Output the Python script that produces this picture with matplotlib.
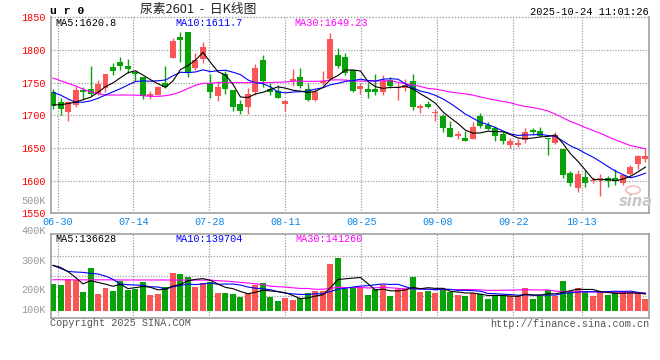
import numpy as np
import pandas as pd
import matplotlib
matplotlib.use('Agg')
import matplotlib.pyplot as plt
from matplotlib.patches import Circle

# ---------------- data ----------------
start_date = '2025-06-27'
end_date = '2025-10-24'
holidays = ['2025-10-01', '2025-10-02', '2025-10-03', '2025-10-06', '2025-10-07', '2025-10-08']

opens = [1735, 1720, 1705, 1716, 1739, 1740, 1733, 1742, 1774, 1781,
         1776, 1767, 1758, 1730, 1731, 1750, 1788, 1820, 1827, 1773,
         1786, 1750, 1729, 1763, 1739, 1717, 1713, 1735, 1784, 1741,
         1737, 1718, 1753, 1758, 1740, 1724, 1749, 1755, 1792, 1790,
         1769, 1740, 1740, 1740, 1736, 1754, 1742, 1742, 1752, 1711,
         1718, 1703, 1699, 1681, 1668, 1665, 1664, 1699, 1685, 1680,
         1671, 1654, 1654, 1662, 1677, 1676, 1666, 1658, 1649, 1612,
         1589, 1605, 1599, 1601, 1604, 1604, 1596, 1610, 1626, 1633]
highs = [1740, 1727, 1722, 1745, 1744, 1775, 1754, 1763, 1780, 1789,
         1786, 1768, 1758, 1737, 1745, 1775, 1819, 1828, 1827, 1795,
         1812, 1763, 1752, 1768, 1739, 1724, 1742, 1779, 1792, 1750,
         1747, 1724, 1771, 1773, 1749, 1740, 1768, 1826, 1803, 1795,
         1770, 1749, 1749, 1763, 1762, 1758, 1749, 1756, 1763, 1718,
         1722, 1709, 1702, 1691, 1676, 1676, 1689, 1703, 1690, 1683,
         1675, 1666, 1664, 1680, 1680, 1682, 1666, 1675, 1649, 1614,
         1616, 1616, 1606, 1610, 1607, 1618, 1610, 1624, 1639, 1649]
lows = [1710, 1700, 1691, 1713, 1724, 1729, 1731, 1736, 1762, 1769,
        1764, 1752, 1725, 1725, 1731, 1742, 1788, 1781, 1759, 1769,
        1780, 1727, 1722, 1732, 1707, 1702, 1702, 1731, 1744, 1731,
        1726, 1707, 1745, 1742, 1722, 1722, 1747, 1755, 1773, 1762,
        1736, 1733, 1726, 1731, 1731, 1742, 1724, 1737, 1708, 1704,
        1711, 1691, 1675, 1667, 1664, 1660, 1664, 1681, 1678, 1661,
        1656, 1650, 1651, 1657, 1671, 1667, 1639, 1656, 1604, 1592,
        1582, 1591, 1596, 1577, 1590, 1593, 1593, 1609, 1618, 1629]
closes = [1715, 1710, 1720, 1739, 1736, 1733, 1748, 1763, 1768, 1776,
          1771, 1763, 1730, 1733, 1744, 1744, 1813, 1816, 1764, 1785,
          1804, 1736, 1744, 1740, 1713, 1707, 1732, 1772, 1752, 1735,
          1727, 1722, 1756, 1745, 1724, 1736, 1753, 1817, 1775, 1765,
          1737, 1745, 1736, 1736, 1752, 1745, 1744, 1747, 1713, 1715,
          1712, 1705, 1681, 1667, 1672, 1661, 1682, 1684, 1679, 1669,
          1660, 1660, 1658, 1674, 1674, 1669, 1663, 1670, 1608, 1596,
          1610, 1596, 1600, 1604, 1600, 1599, 1609, 1621, 1638, 1637]
volumes_k = [218, 210, 259, 251, 155, 351, 139, 188, 163, 242,
             169, 180, 237, 128, 139, 196, 310, 302, 278, 193,
             229, 237, 147, 147, 139, 114, 147, 207, 229, 112,
             82, 106, 90, 101, 144, 158, 158, 381, 433, 174,
             185, 182, 128, 174, 210, 120, 174, 174, 275, 155,
             161, 147, 177, 150, 128, 123, 142, 136, 95, 128,
             120, 120, 120, 185, 95, 120, 169, 120, 245, 163,
             185, 155, 120, 155, 128, 152, 152, 142, 142, 95]

# moving-average values before enough history is visible
ma5_head = [1716, 1716, 1718, 1720]
ma10_head = [1735, 1731, 1725, 1720, 1720, 1722, 1726, 1731, 1736]
ma30_head = [1757, 1753, 1749, 1745, 1740, 1736, 1733, 1731, 1731, 1731,
             1731, 1731, 1730, 1729, 1729, 1730, 1732, 1736, 1741, 1746,
             1749, 1749, 1750, 1750, 1750, 1750, 1750, 1750, 1750]
vma5_head = [370, 354, 319, 272]
vma10_head = [370, 346, 321, 316, 313, 305, 300, 283, 256]
vma30_head = [253, 253, 252, 252, 252, 252, 252, 252, 252, 251,
              251, 251, 251, 251, 251, 251, 250, 250, 250, 250,
              250, 250, 245, 242, 237, 231, 226, 220, 212]

tick_dates = ['06-30', '07-14', '07-28', '08-11', '08-25', '09-08', '09-22', '10-13']
price_ticks = [1550, 1600, 1650, 1700, 1750, 1800, 1850]
vol_tick_labels = ['100K', '200K', '300K', '400K', '500K']
title_name = '尿素2601  -  日K线图'
symbol = 'u r 0'
timestamp = '2025-10-24 11:01:26'
ma_price_labels = ['MA5:1620.8', 'MA10:1611.7', 'MA30:1649.23']
ma_vol_labels = ['MA5:136628', 'MA10:139704', 'MA30:141260']
copyright_text = 'Copyright 2025 SINA.COM'
url_text = 'http://finance.sina.com.cn'

# ---------------- derived ----------------
dates = pd.bdate_range(start_date, end_date)
dates = dates[~dates.isin(pd.to_datetime(holidays))]
date_str = list(dates.strftime('%m-%d'))

o = np.array(opens, float); h = np.array(highs, float)
l = np.array(lows, float); c = np.array(closes, float)
v = np.array(volumes_k, float)
n = len(c)
x = np.arange(n)


def ma(series, win, head):
    s = pd.Series(series).rolling(win).mean().to_numpy()
    s[:len(head)] = head
    return s


ma5 = ma(c, 5, ma5_head); ma10 = ma(c, 10, ma10_head); ma30 = ma(c, 30, ma30_head)
vma5 = ma(v, 5, vma5_head); vma10 = ma(v, 10, vma10_head); vma30 = ma(v, 30, vma30_head)

# ---------------- style ----------------
RED = '#fb5656'
GREEN = '#0aa20a'
GRID = '#a0a0a0'
SPINE = '#a0a0a0'
MONO = 'Liberation Mono'
W, H = 660, 360
LW = 0.8


def fx(px):
    return px / W


def fy(py):
    return 1 - py / H


L, R = 50.7, 649.3
MT, MB = 17.3, 213.3
VT, VB = 234.3, 318.3

fig = plt.figure(figsize=(W / 100, H / 100), dpi=100)
fig.patch.set_facecolor('white')
ax = fig.add_axes([fx(L), fy(MB), fx(R - L), (MB - MT) / H])
axv = fig.add_axes([fx(L), fy(VB), fx(R - L), (VB - VT) / H])

xlim = (-0.307, 79.51)
grid_x = [1.01333 * date_str.index(d) - 0.4133 for d in tick_dates]
dot = (0, (1, 1.2))

# ---- main price panel ----
up = c >= o
cols = np.where(up, RED, GREEN)
ax.vlines(x, l, h, colors=cols, lw=1.0, zorder=3)
body_bottom = np.minimum(o, c)
body_h = np.maximum(np.abs(c - o), 1.3)
ax.bar(x, body_h, bottom=body_bottom, width=0.8, color=cols, lw=0, zorder=3)
ax.plot(x, ma30, color='#ff00ff', lw=LW, zorder=4)
ax.plot(x, ma10, color='#0000ff', lw=LW, zorder=5)
ax.plot(x, ma5, color='black', lw=LW, zorder=6)

ax.set_xlim(*xlim)
ax.set_ylim(1550, 1850)
for p in price_ticks[1:-1]:
    ax.axhline(p, color=GRID, lw=0.9, ls=dot, zorder=1)
ax.axhline(1850, color=GRID, lw=1.0, ls=dot, zorder=1, clip_on=False)
for gx in grid_x:
    ax.axvline(gx, color=GRID, lw=0.9, ls=dot, zorder=1)
ax.set_yticks(price_ticks)
ax.set_yticklabels([str(p) for p in price_ticks], color='#ff0000',
                   fontsize=7.3, family=MONO)
ax.tick_params(axis='y', length=0, pad=3.5)
ax.set_xticks(grid_x)
ax.set_xticklabels(tick_dates, color='#0a85e6', fontsize=7.3, family=MONO)
ax.tick_params(axis='x', length=0, pad=2.5)
ax.spines['top'].set_visible(False)
for s in ['left', 'right', 'bottom']:
    ax.spines[s].set_color(SPINE)
    ax.spines[s].set_linewidth(1.2)

# ---- volume panel ----
axv.bar(x, v, width=0.8, color=cols, lw=0, zorder=3)
axv.plot(x, vma30, color='#ff00ff', lw=LW, zorder=4)
axv.plot(x, vma10, color='#0000ff', lw=LW, zorder=5)
axv.plot(x, vma5, color='black', lw=LW, zorder=6)
axv.set_xlim(*xlim)
kpp = 8.17  # K per pixel
axv.set_ylim(-(VB - 310.7) * kpp, (310.7 - VT) * kpp)
for gy in [255.7, 275.7, 295.7]:
    axv.axhline((310.7 - gy) * kpp, color=GRID, lw=0.9, ls=dot, zorder=1)
for gx in grid_x:
    axv.axvline(gx, color=GRID, lw=0.9, ls=dot, zorder=1)
axv.set_xticks([]); axv.set_yticks([])
for s in axv.spines.values():
    s.set_color(SPINE)
    s.set_linewidth(1.2)

# volume axis labels (placed as in the original)
for lab, py in zip(vol_tick_labels, [310.0, 290.0, 260.7, 230.7, 200.7]):
    fig.text(fx(45.9), fy(py), lab, ha='right', va='center', color='#999999',
             fontsize=7.3, family=MONO)

# ---- texts ----
for lab, px, colr in zip(ma_price_labels, [55, 175, 294.3], ['black', '#0000ff', '#ff00ff']):
    fig.text(fx(px), fy(23), lab, ha='left', va='center', color=colr,
             fontsize=7.3, family=MONO)
for lab, px, colr in zip(ma_vol_labels, [55, 175, 295], ['black', '#0000ff', '#ff00ff']):
    fig.text(fx(px), fy(239), lab, ha='left', va='center', color=colr,
             fontsize=7.3, family=MONO)

fig.text(fx(50), fy(11.5), symbol, ha='left', va='center', color='black',
         fontsize=8.2, family=MONO, fontweight='bold')
fig.text(fx(140), fy(9.5), title_name, ha='left', va='center', color='#222222',
         fontsize=9.2, family=['Noto Sans CJK SC', 'DejaVu Sans'])
fig.text(fx(649), fy(12), timestamp, ha='right', va='center', color='black',
         fontsize=7.5, family=MONO)
fig.text(fx(50), fy(323.5), copyright_text, ha='left', va='center', color='#555555',
         fontsize=7.3, family=MONO)
fig.text(fx(649), fy(324), url_text, ha='right', va='center', color='#555555',
         fontsize=7.3, family=MONO)

# sina watermark
fig.text(fx(636), fy(202), 'sina', ha='center', va='center', color='#c8c8c8',
         fontsize=10.5, fontstyle='italic', fontweight='bold', family='DejaVu Sans')
fig.patches.append(Circle((fx(633), fy(190)), 0.011, transform=fig.transFigure,
                          facecolor='none', edgecolor='#f0c0c0', lw=1.2))

fig.savefig('out.png', dpi=100, facecolor='white')
